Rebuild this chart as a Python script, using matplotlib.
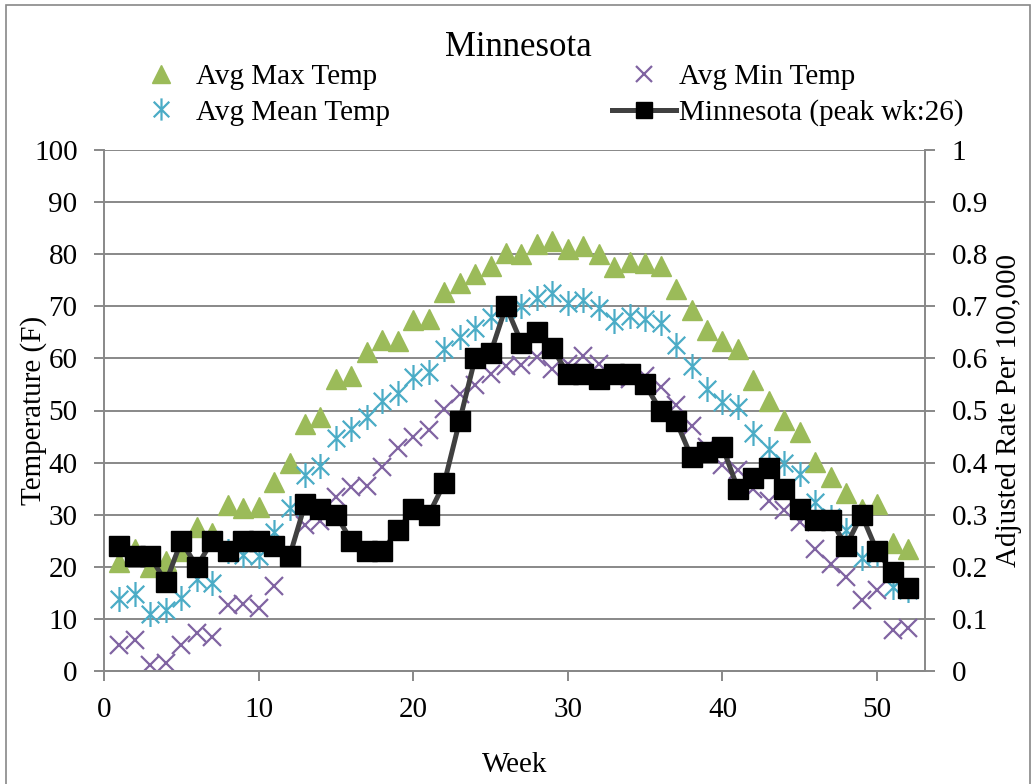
#!/usr/bin/env python3

# import modules
from matplotlib import pyplot as plt
from matplotlib.lines import Line2D
from matplotlib.path import Path
from matplotlib.patches import Rectangle
import numpy as np

# weekly data
weeks = np.arange(1, 53)
max_temp = [21, 23.5, 20, 21.2, 23, 27.6, 26.5, 31.8, 31.2, 31.5, 36.3, 40, 47.5,
            48.8, 56.1, 56.7, 61.2, 63.6, 63.3, 67.3, 67.6, 72.7, 74.5, 76.2, 77.7, 80.2,
            80.1, 82.0, 82.6, 81.0, 81.5, 80.1, 77.5, 78.5, 78.3, 77.8, 73.4, 69.3, 65.4,
            63.4, 61.9, 55.8, 51.8, 48.1, 45.9, 40.1, 37.3, 34.1, 31, 32.0, 24.6, 23.5]
mean_temp = [13.9, 14.8, 11.0, 11.8, 14.1, 17.7, 16.9, 23, 22.3, 22, 26.7, 31.2, 37.6,
             39.4, 44.8, 46.5, 48.7, 51.9, 53.3, 56.4, 57.4, 61.8, 64.1, 65.9, 67.9, 69.5,
             70.1, 71.5, 72.5, 70.6, 71.3, 69.7, 67.2, 68.2, 67.6, 66.8, 62.5, 58.6, 54.2,
             51.7, 50.6, 45.7, 42.7, 40.0, 37.8, 32.5, 29.5, 27.0, 21.7, 22.5, 16.1, 15.5]
min_temp = [4.9, 5.9, 1.1, 1.5, 4.9, 7.3, 6.5, 12.6, 12.8, 12.0, 16.3, 22, 28,
            28.8, 33.4, 35.4, 35.6, 39.1, 42.8, 44.9, 46.2, 50.3, 53.1, 54.8, 57.0, 58.6,
            58.8, 60.2, 58, 59.0, 60.4, 59.0, 56.4, 56, 56.7, 54.5, 51.0, 47.0, 43,
            39.5, 38.5, 35.0, 32.7, 30.9, 28.6, 23.5, 20.6, 18.1, 13.6, 15.5, 7.8, 8.2]
rate = [0.24, 0.22, 0.22, 0.17, 0.25, 0.20, 0.25, 0.23, 0.25, 0.25, 0.24, 0.22, 0.32,
        0.31, 0.30, 0.25, 0.23, 0.23, 0.27, 0.31, 0.30, 0.36, 0.48, 0.60, 0.61, 0.70,
        0.63, 0.65, 0.62, 0.57, 0.57, 0.56, 0.57, 0.57, 0.55, 0.50, 0.48, 0.41, 0.42,
        0.43, 0.35, 0.37, 0.39, 0.35, 0.31, 0.29, 0.29, 0.24, 0.30, 0.23, 0.19, 0.16]

temp_ticks = np.arange(0, 101, 10)
rate_ticks = np.round(np.arange(0, 1.01, 0.1), 1)
week_ticks = np.arange(0, 51, 10)

# colours
c_max = '#9bbb59'
c_mean = '#4bacc6'
c_min = '#8064a2'
c_grid = '#888888'

# asterisk marker: an x with a vertical bar
star = Path([(-0.7, -0.7), (0.7, 0.7), (-0.7, 0.7), (0.7, -0.7), (0, -1), (0, 1)],
            [Path.MOVETO, Path.LINETO, Path.MOVETO, Path.LINETO, Path.MOVETO, Path.LINETO])

plt.rcParams['font.family'] = ['Liberation Serif', 'DejaVu Serif']
plt.rcParams['font.size'] = 21

fig = plt.figure(figsize=(10.36, 7.84), dpi=100)
ax = fig.add_axes([104 / 1036, 113 / 784, 821 / 1036, 521 / 784])
ax2 = ax.twinx()

# temperature series
ax.plot(weeks, max_temp, ls='none', marker='^', ms=15, color=c_max, mec=c_max)
ax.plot(weeks, mean_temp, ls='none', marker=star, ms=18, mfc='none', mec=c_mean, mew=1.6)
ax.plot(weeks, min_temp, ls='none', marker='x', ms=13, mec=c_min, mew=1.6)

# rate series on the right axis
ax2.plot(weeks, rate, color='#404040', lw=3.6, marker='s', ms=14, mfc='black', mec='black')

ax.set_xlim(0, 53.1)
ax.set_ylim(0, 100)
ax2.set_ylim(0, 1)
ax.set_xticks(week_ticks)
ax.set_yticks(temp_ticks)
ax2.set_yticks(rate_ticks)
ax2.set_yticklabels(['0' if v == 0 else ('1' if v == 1 else '%g' % v) for v in rate_ticks])

ax.yaxis.grid(True, color=c_grid, lw=1.4)
ax.set_axisbelow(True)
for a in (ax, ax2):
	a.spines['top'].set_visible(False)
	for side in ('left', 'right', 'bottom'):
		a.spines[side].set_color(c_grid)
		a.spines[side].set_linewidth(1.4)
	a.tick_params(color=c_grid, width=1.4, length=7, pad=12, labelsize=21)
ax2.spines['left'].set_visible(False)
ax.spines['right'].set_visible(False)

ax.set_xlabel('Week')
ax.set_ylabel('Temperature (F)')
ax2.set_ylabel('Adjusted Rate Per 100,000')
ax.xaxis.set_label_coords(0.5, -0.155)
ax.yaxis.set_label_coords(-0.07, 0.5)
ax2.yaxis.set_label_coords(1.086, 0.5)

fig.text(0.5, 1 - 47 / 784, 'Minnesota', ha='center', va='center', fontsize=25)

# legend in two columns above the plot
handles = [
	Line2D([], [], ls='none', marker='^', ms=13, color=c_max),
	Line2D([], [], ls='none', marker=star, ms=16, mfc='none', mec=c_mean, mew=1.6),
	Line2D([], [], ls='none', marker='x', ms=12, mec=c_min, mew=1.6),
	Line2D([], [], color='#404040', lw=3.6, marker='s', ms=12, mfc='black', mec='black'),
]
labels = ['Avg Max Temp', 'Avg Mean Temp', 'Avg Min Temp', 'Minnesota (peak wk:26)']
fig.legend(handles, labels, ncol=2, loc='center', bbox_to_anchor=(0.527, 1 - 95 / 784),
           frameon=False, fontsize=21, handlelength=2.2, handletextpad=0.1,
           columnspacing=7.6, labelspacing=0.3)

# outer chart border
fig.patches.append(Rectangle((6 / 1036, -0.01), 1 - 12 / 1036, 1 - 5 / 784 + 0.01,
                             transform=fig.transFigure, fill=False, ec='#888888', lw=1.2))

plt.savefig('out.png', dpi=100)
